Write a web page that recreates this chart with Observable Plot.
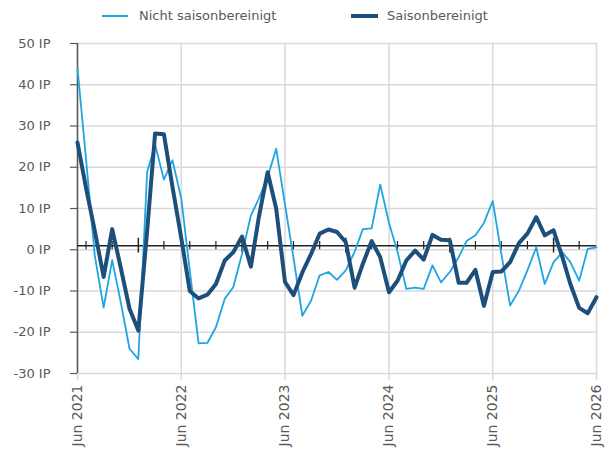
<!DOCTYPE html>
<html>
<head>
<meta charset="utf-8">
<script src="https://cdn.jsdelivr.net/npm/d3@7"></script>
<script src="https://cdn.jsdelivr.net/npm/@observablehq/plot@0.6"></script>
<style>
  html, body { margin: 0; padding: 0; background: #fff; }
  body { width: 608px; height: 455px; overflow: hidden; font-family: "DejaVu Sans", sans-serif; }
  #legend { position: relative; height: 30px; width: 608px; color: #595959; font-size: 13px; }
  #legend .sw { position: absolute; height: 0; }
  #legend .lb { position: absolute; top: 7px; line-height: 18px; white-space: nowrap; }
</style>
</head>
<body>
<div id="legend"></div>
<div id="chart"></div>
<script>
// ---- data ----
const startMonth = "2021-06-01";
const seriesNames = ["Nicht saisonbereinigt", "Saisonbereinigt"];
const nichtSaisonbereinigt = [
  44, 22, -1.5, -14, -2.5, -13, -24, -26.5, 18.8, 25.5, 17, 21.7,
  12.5, -5, -22.7, -22.6, -18.8, -11.9, -9.1, -1, 8.3, 12.4, 17.6, 24.5,
  11, -2, -16, -12.3, -6.2, -5.4, -7.3, -5, -0.5, 5, 5.2, 15.8,
  6.5, -0.5, -9.5, -9.2, -9.5, -3.8, -7.9, -5.4, -1.8, 2.1, 3.5, 6.5,
  11.8, -0.9, -13.5, -9.9, -5, 0.6, -8.3, -3, -0.6, -3, -7.5, 0.2,
  0.6
];
const saisonbereinigt = [
  26, 15, 4.5, -6.6, 5, -4.6, -14.3, -19.6, 4.5, 28.2, 28, 15.3,
  2.9, -10, -11.8, -10.9, -8.3, -2.6, -0.6, 3.2, -4.1, 7.9, 18.8, 10,
  -7.8, -11, -5.5, -1, 3.9, 4.9, 4.3, 1.8, -9.2, -3.4, 2.1, -1.8,
  -10.3, -7.5, -2.6, -0.2, -2.4, 3.6, 2.4, 2.3, -8, -8, -4.9, -13.6,
  -5.4, -5.3, -3, 1.6, 3.9, 7.9, 3.5, 4.7, -1.8, -8.3, -14.1, -15.4,
  -11.5
];
const yTicks = [-30, -20, -10, 0, 10, 20, 30, 40, 50];
const xTickLabels = ["Jun 2021", "Jun 2022", "Jun 2023", "Jun 2024", "Jun 2025", "Jun 2026"];
const axisCross = 1; // horizontal category axis crosses here

// ---- derived ----
const start = new Date(startMonth + "T00:00:00Z");
const months = nichtSaisonbereinigt.map((_, i) => d3.utcMonth.offset(start, i));
const rows = months.map((date, i) => ({date, nsa: nichtSaisonbereinigt[i], sa: saisonbereinigt[i]}));
const parseLabel = d3.utcParse("%b %Y");
const yearTicks = xTickLabels.map(s => parseLabel(s));
const xDomain = [yearTicks[0], yearTicks[yearTicks.length - 1]];
const yDomain = [yTicks[0], yTicks[yTicks.length - 1]];
const quarterTicks = d3.utcMonth.range(d3.utcMonth.offset(xDomain[0], 1), xDomain[1], 3);
const minorTicks = quarterTicks.filter(d => d.getUTCMonth() !== 0);
const janTicks = quarterTicks.filter(d => d.getUTCMonth() === 0);

const LIGHT = "#1fa5e2";
const DARK = "#1d4f7a";

// ---- legend ----
const legend = document.getElementById("legend");
legend.innerHTML = `
  <div class="sw" style="left:102px;top:15px;width:26px;border-top:2px solid ${LIGHT}"></div>
  <div class="lb" style="left:139px">${seriesNames[0]}</div>
  <div class="sw" style="left:351px;top:14px;width:27px;border-top:4px solid ${DARK}"></div>
  <div class="lb" style="left:387px">${seriesNames[1]}</div>`;

// ---- chart ----
const chart = Plot.plot({
  width: 608,
  height: 425,
  marginTop: 13,
  marginBottom: 82,
  marginLeft: 77,
  marginRight: 12,
  style: {fontFamily: "DejaVu Sans, sans-serif", fontSize: "13px", color: "#595959", background: "#fff"},
  x: {type: "utc", domain: xDomain},
  y: {domain: yDomain},
  marks: [
    Plot.gridY({ticks: yTicks, stroke: "#d9d9d9", strokeOpacity: 1, strokeWidth: 1.5}),
    Plot.gridX({ticks: yearTicks, stroke: "#d9d9d9", strokeOpacity: 1, strokeWidth: 1.5}),
    Plot.axisX({ticks: yearTicks, tickSize: 7, tickPadding: 4, tickRotate: -90,
      tickFormat: d3.utcFormat("%b %Y"), stroke: "#d9d9d9", strokeWidth: 1.5, fill: "#595959", fontSize: 14}),
    Plot.axisY({ticks: yTicks, tickSize: 7, tickPadding: 20, tickFormat: d => `${d} IP`,
      stroke: "#595959", strokeWidth: 1.2, fill: "#595959", fontSize: 13}),
    Plot.ruleX([xDomain[0]], {y1: yDomain[0], y2: yDomain[1], stroke: "#595959", strokeWidth: 1.5}),
    Plot.ruleY([axisCross], {stroke: "#222", strokeWidth: 1.5}),
    Plot.ruleX(minorTicks, {x: d => d, y1: axisCross - 1, y2: axisCross + 1, stroke: "#222", strokeWidth: 1.2}),
    Plot.ruleX(janTicks, {x: d => d, y1: axisCross - 1.8, y2: axisCross + 1.8, stroke: "#222", strokeWidth: 1.5}),
    Plot.line(rows, {x: "date", y: "nsa", stroke: LIGHT, strokeWidth: 1.8, strokeLinejoin: "round"}),
    Plot.line(rows, {x: "date", y: "sa", stroke: DARK, strokeWidth: 4, strokeLinejoin: "round"})
  ]
});
document.getElementById("chart").appendChild(chart);
</script>
</body>
</html>
